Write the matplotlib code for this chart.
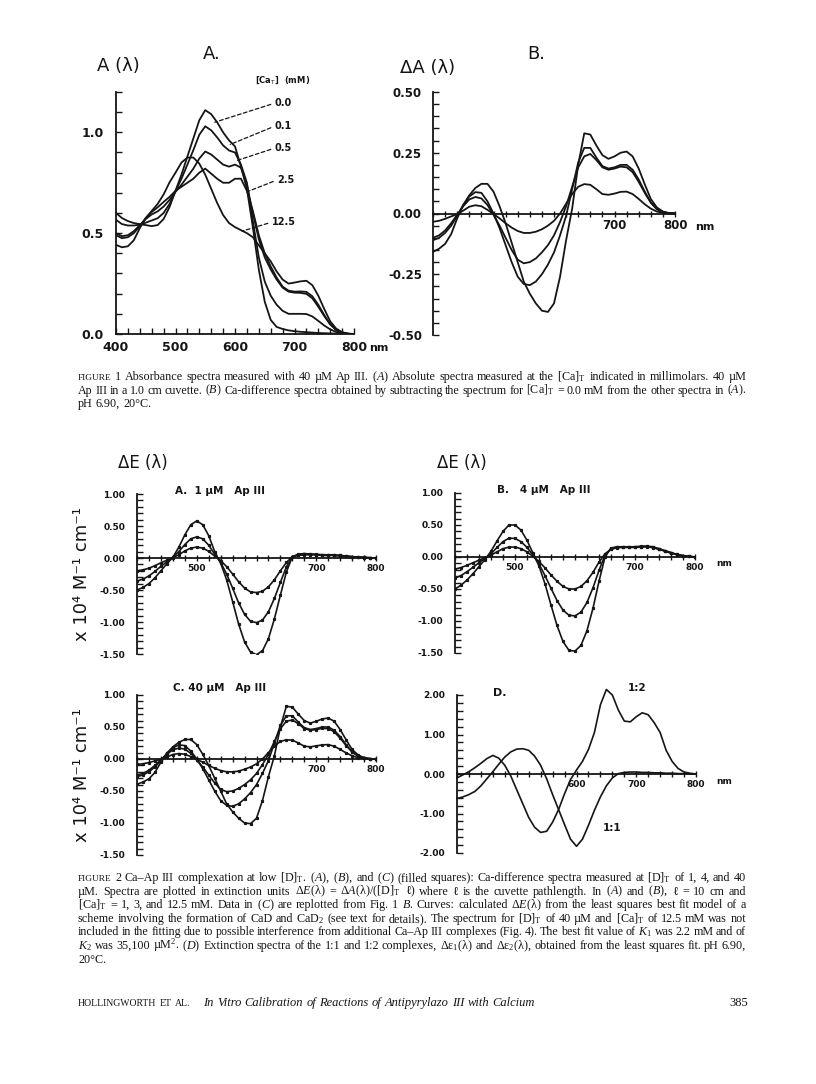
import numpy as np
import matplotlib
matplotlib.use("Agg")
import matplotlib.pyplot as plt
from matplotlib.ticker import MultipleLocator
from matplotlib.transforms import IdentityTransform

plt.rcParams['font.family'] = ['DejaVu Sans']
plt.rcParams['mathtext.fontset'] = 'custom'
plt.rcParams['mathtext.rm'] = 'Liberation Serif'
plt.rcParams['mathtext.it'] = 'Liberation Serif:italic'

W, H = 816, 1084
INK = '#151515'
SERIF = ['Liberation Serif', 'DejaVu Serif']

# wavelength grid (nm), every 10 nm from 400 to 800
wl = np.arange(400, 801, 10)

# ---- Fig 1A: absorbance, 40 uM Ap III, [Ca]T in mM
A_00 = [0.60, 0.575, 0.56, 0.55, 0.545, 0.54, 0.535, 0.54, 0.57, 0.63,
        0.71, 0.79, 0.88, 0.97, 1.06, 1.11, 1.09, 1.05, 1.00, 0.96,
        0.93, 0.83, 0.72, 0.53, 0.32, 0.16, 0.07, 0.035, 0.025, 0.018,
        0.014, 0.011, 0.009, 0.007, 0.005, 0.004, 0.003, 0.002, 0.001, 0.0, 0.0]
A_01 = [0.566, 0.545, 0.538, 0.538, 0.542, 0.552, 0.563, 0.574, 0.60, 0.645,
        0.708, 0.77, 0.84, 0.912, 0.988, 1.03, 1.01, 0.975, 0.935, 0.91,
        0.90, 0.84, 0.75, 0.56, 0.38, 0.26, 0.19, 0.145, 0.115, 0.10,
        0.10, 0.10, 0.099, 0.087, 0.065, 0.042, 0.023, 0.01, 0.004, 0.001, 0.0]
A_05 = [0.50, 0.485, 0.49, 0.51, 0.54, 0.57, 0.593, 0.608, 0.632, 0.665,
        0.705, 0.74, 0.78, 0.82, 0.87, 0.905, 0.89, 0.865, 0.84, 0.83,
        0.84, 0.825, 0.74, 0.60, 0.47, 0.38, 0.32, 0.27, 0.23, 0.21,
        0.205, 0.204, 0.199, 0.177, 0.135, 0.089, 0.048, 0.02, 0.007, 0.001, 0.0]
A_25 = [0.49, 0.475, 0.48, 0.50, 0.535, 0.575, 0.605, 0.628, 0.655, 0.68,
        0.71, 0.73, 0.75, 0.77, 0.80, 0.82, 0.795, 0.77, 0.75, 0.75,
        0.77, 0.77, 0.71, 0.61, 0.49, 0.40, 0.335, 0.28, 0.235, 0.215,
        0.21, 0.211, 0.209, 0.187, 0.145, 0.094, 0.048, 0.02, 0.007, 0.001, 0.0]
A_125 = [0.442, 0.43, 0.435, 0.465, 0.525, 0.575, 0.61, 0.645, 0.692, 0.752,
         0.80, 0.85, 0.875, 0.875, 0.845, 0.79, 0.72, 0.65, 0.59, 0.55,
         0.53, 0.515, 0.50, 0.48, 0.44, 0.40, 0.36, 0.31, 0.27, 0.25,
         0.255, 0.261, 0.264, 0.242, 0.19, 0.124, 0.063, 0.027, 0.009, 0.002, 0.0]
conc_names = ['0.0', '0.1', '0.5', '2.5', '12.5']

# ---- Fig 1B: Ca-difference spectra (absorbance units)
dA_01 = [-0.034, -0.03, -0.022, -0.012, -0.003, 0.012, 0.028, 0.034, 0.03, 0.015,
         -0.002, -0.02, -0.04, -0.058, -0.072, -0.08, -0.08, -0.075, -0.065, -0.05,
         -0.03, 0.0, 0.04, 0.08, 0.11, 0.121, 0.118, 0.10, 0.08, 0.077,
         0.082, 0.089, 0.09, 0.08, 0.06, 0.038, 0.02, 0.008, 0.003, 0.001, 0.0]
dA_05 = [-0.10, -0.09, -0.07, -0.04, -0.005, 0.03, 0.058, 0.068, 0.062, 0.035,
         -0.005, -0.05, -0.10, -0.15, -0.19, -0.205, -0.20, -0.185, -0.16, -0.13,
         -0.09, -0.035, 0.03, 0.11, 0.19, 0.235, 0.245, 0.22, 0.19, 0.18,
         0.185, 0.193, 0.19, 0.17, 0.13, 0.085, 0.045, 0.018, 0.006, 0.001, 0.0]
dA_25 = [-0.11, -0.10, -0.08, -0.05, -0.01, 0.035, 0.07, 0.088, 0.085, 0.05,
         0.0, -0.06, -0.13, -0.20, -0.26, -0.29, -0.295, -0.28, -0.25, -0.21,
         -0.16, -0.09, -0.01, 0.10, 0.21, 0.27, 0.27, 0.23, 0.195, 0.185,
         0.19, 0.20, 0.20, 0.18, 0.14, 0.09, 0.045, 0.018, 0.006, 0.001, 0.0]
dA_125 = [-0.158, -0.145, -0.125, -0.085, -0.02, 0.035, 0.075, 0.105, 0.122, 0.122,
          0.09, 0.03, -0.04, -0.12, -0.20, -0.28, -0.33, -0.37, -0.40, -0.405,
          -0.37, -0.26, -0.11, 0.02, 0.20, 0.33, 0.325, 0.28, 0.24, 0.225,
          0.235, 0.25, 0.255, 0.235, 0.185, 0.12, 0.06, 0.025, 0.008, 0.002, 0.0]

# ---- Fig 2A: extinction, 1 uM Ap III (x 10^4 M-1 cm-1)
dE1_lo = [-0.20, -0.185, -0.16, -0.12, -0.075, -0.035, 0.005, 0.05, 0.11, 0.155,
          0.17, 0.155, 0.105, 0.03, -0.04, -0.135, -0.25, -0.37, -0.47, -0.53,
          -0.54, -0.52, -0.45, -0.34, -0.20, -0.07, 0.02, 0.04, 0.05, 0.05,
          0.05, 0.04, 0.04, 0.04, 0.03, 0.025, 0.02, 0.01, 0.005, 0.0, 0.0]
dE1_mid = [-0.36, -0.33, -0.28, -0.21, -0.13, -0.06, 0.01, 0.10, 0.21, 0.30,
           0.33, 0.30, 0.20, 0.06, -0.07, -0.25, -0.47, -0.70, -0.88, -0.99,
           -1.01, -0.97, -0.84, -0.63, -0.38, -0.14, 0.02, 0.05, 0.06, 0.06,
           0.05, 0.05, 0.05, 0.04, 0.04, 0.03, 0.02, 0.015, 0.01, 0.005, 0.0]
dE1_hi = [-0.50, -0.46, -0.40, -0.31, -0.20, -0.09, 0.01, 0.17, 0.36, 0.52,
          0.58, 0.52, 0.35, 0.10, -0.08, -0.34, -0.68, -1.03, -1.31, -1.47,
          -1.51, -1.45, -1.26, -0.95, -0.58, -0.22, 0.02, 0.06, 0.07, 0.06,
          0.06, 0.05, 0.05, 0.05, 0.04, 0.03, 0.02, 0.015, 0.01, 0.005, 0.0]

# ---- Fig 2B: extinction, 4 uM Ap III
dE4_lo = [-0.19, -0.165, -0.13, -0.09, -0.05, -0.01, 0.03, 0.08, 0.13, 0.155,
          0.155, 0.13, 0.08, 0.01, -0.07, -0.17, -0.28, -0.38, -0.46, -0.50,
          -0.50, -0.46, -0.37, -0.24, -0.08, 0.05, 0.12, 0.145, 0.15, 0.15,
          0.15, 0.155, 0.16, 0.145, 0.12, 0.09, 0.06, 0.035, 0.02, 0.01, 0.0]
dE4_mid = [-0.33, -0.29, -0.23, -0.16, -0.09, -0.02, 0.05, 0.15, 0.24, 0.295,
           0.29, 0.24, 0.15, 0.03, -0.11, -0.29, -0.49, -0.68, -0.83, -0.91,
           -0.92, -0.86, -0.71, -0.48, -0.21, 0.03, 0.13, 0.15, 0.155, 0.155,
           0.155, 0.16, 0.165, 0.15, 0.125, 0.095, 0.065, 0.04, 0.02, 0.01, 0.0]
dE4_hi = [-0.50, -0.44, -0.36, -0.26, -0.15, -0.04, 0.09, 0.25, 0.40, 0.50,
          0.50, 0.42, 0.26, 0.06, -0.14, -0.42, -0.75, -1.07, -1.32, -1.46,
          -1.47, -1.38, -1.15, -0.80, -0.38, 0.0, 0.14, 0.16, 0.16, 0.16,
          0.16, 0.17, 0.17, 0.16, 0.13, 0.10, 0.07, 0.04, 0.02, 0.01, 0.0]

# ---- Fig 2C: extinction, 40 uM Ap III (Fig 1B replotted)
dE40_01 = [-0.085, -0.075, -0.055, -0.03, -0.008, 0.03, 0.07, 0.085, 0.075, 0.038,
           -0.005, -0.05, -0.10, -0.145, -0.18, -0.20, -0.20, -0.19, -0.16, -0.125,
           -0.075, 0.0, 0.10, 0.20, 0.275, 0.30, 0.295, 0.25, 0.20, 0.19,
           0.205, 0.22, 0.225, 0.20, 0.15, 0.095, 0.05, 0.02, 0.008, 0.003, 0.0]
dE40_05 = [-0.25, -0.225, -0.175, -0.10, -0.013, 0.075, 0.145, 0.17, 0.155, 0.088,
           -0.013, -0.125, -0.25, -0.375, -0.475, -0.51, -0.50, -0.46, -0.40, -0.325,
           -0.225, -0.088, 0.075, 0.275, 0.475, 0.59, 0.61, 0.55, 0.475, 0.45,
           0.46, 0.48, 0.475, 0.425, 0.325, 0.21, 0.11, 0.045, 0.015, 0.003, 0.0]
dE40_25 = [-0.275, -0.25, -0.20, -0.125, -0.025, 0.088, 0.175, 0.22, 0.21, 0.125,
           0.0, -0.15, -0.325, -0.50, -0.65, -0.725, -0.74, -0.70, -0.625, -0.525,
           -0.40, -0.225, -0.025, 0.25, 0.525, 0.675, 0.675, 0.575, 0.49, 0.46,
           0.475, 0.50, 0.50, 0.45, 0.35, 0.225, 0.11, 0.045, 0.015, 0.003, 0.0]
dE40_125 = [-0.395, -0.36, -0.31, -0.21, -0.05, 0.09, 0.19, 0.26, 0.305, 0.305,
            0.225, 0.075, -0.10, -0.30, -0.50, -0.70, -0.825, -0.925, -1.00, -1.01,
            -0.925, -0.65, -0.275, 0.05, 0.50, 0.825, 0.81, 0.70, 0.60, 0.56,
            0.59, 0.625, 0.64, 0.59, 0.46, 0.30, 0.15, 0.063, 0.02, 0.005, 0.0]

# ---- Fig 2D: extinction spectra of 1:1 and 1:2 complexes
de_11 = [-0.62, -0.58, -0.52, -0.44, -0.30, -0.12, 0.06, 0.25, 0.43, 0.56,
         0.63, 0.64, 0.60, 0.45, 0.22, -0.12, -0.52, -0.90, -1.28, -1.65,
         -1.83, -1.65, -1.30, -0.92, -0.58, -0.30, -0.10, 0.01, 0.04, 0.05,
         0.05, 0.04, 0.04, 0.03, 0.03, 0.02, 0.02, 0.01, 0.01, 0.0, 0.0]
de_12 = [-0.10, -0.02, 0.06, 0.16, 0.27, 0.39, 0.47, 0.40, 0.22, -0.05,
         -0.40, -0.75, -1.10, -1.35, -1.48, -1.45, -1.22, -0.90, -0.50, -0.14,
         0.10, 0.32, 0.62, 1.05, 1.75, 2.14, 2.00, 1.62, 1.34, 1.32,
         1.45, 1.55, 1.50, 1.30, 1.05, 0.60, 0.32, 0.14, 0.05, 0.02, 0.0]

fig = plt.figure(figsize=(W / 100, H / 100), dpi=100)
fig.patch.set_facecolor('white')


def box(left, top, width, height):
    # page pixels, measured from the top-left corner
    return fig.add_axes([left / W, 1 - (top + height) / H, width / W, height / H])


def put(x, y, s, **kw):
    kw.setdefault('color', INK)
    kw.setdefault('va', 'center')
    return fig.text(x / W, 1 - y / H, s, **kw)


def frame(ax, ylo, yhi, ystep, yminor, fmt, xlabels, size, ypad, at_zero=True):
    ax.set_xlim(400, 800)
    ax.set_ylim(ylo, yhi)
    ax.patch.set_alpha(0)
    for s in ('top', 'right'):
        ax.spines[s].set_visible(False)
    for s in ('left', 'bottom'):
        ax.spines[s].set_linewidth(1.3)
        ax.spines[s].set_color(INK)
    if at_zero:
        ax.spines['bottom'].set_position(('data', 0))
    yt = np.arange(ylo, yhi + 1e-9, ystep)
    ax.set_yticks(yt, labels=[fmt.format(v + 0.0) for v in yt],
                  fontweight='bold', fontsize=size)
    ax.yaxis.set_minor_locator(MultipleLocator(yminor))
    ax.set_xticks(np.arange(400, 801, 100), labels=xlabels,
                  fontweight='bold', fontsize=size)
    ax.xaxis.set_minor_locator(MultipleLocator(20))
    ax.tick_params(axis='y', which='both', direction='in', length=4,
                   width=1, pad=ypad, colors=INK)
    ax.tick_params(axis='x', which='both', direction='inout' if at_zero else 'in',
                   length=5 if at_zero else 4, width=1,
                   pad=1.5 if at_zero else 5, colors=INK)


# ================= FIGURE 1 =================
ax = box(116, 92, 238, 242)
frame(ax, 0.0, 1.0, 0.5, 0.1, '{:.1f}', ['400', '500', '600', '700', '800'],
      9, 9, at_zero=False)
ax.set_ylim(0, 1.2)
for y in (A_00, A_01, A_05, A_25, A_125):
    ax.plot(wl, y, color=INK, lw=1.3)
# dashed leaders: (label position, point on curve) in data units
leaders = [((667, 1.145), (566, 1.05)), ((667, 1.031), (592, 0.94)),
           ((667, 0.922), (603, 0.86)), ((671, 0.764), (620, 0.705)),
           ((662, 0.555), (612, 0.51))]
for name, (xy_txt, xy_pt) in zip(conc_names, leaders):
    ax.annotate(name, xy=xy_pt, xytext=xy_txt, ha='left', va='center',
                fontsize=7, fontweight='bold', color=INK, annotation_clip=False,
                arrowprops=dict(arrowstyle='-', linestyle=(0, (3, 2)), lw=0.9,
                                color=INK, relpos=(0, 0.5), shrinkA=1, shrinkB=0))
put(97, 66, 'A (λ)', fontsize=13)
put(203, 54, 'A.', fontsize=13)
put(255, 80, '[Ca$_\\mathsf{T}$]  (mM)', fontsize=6, fontweight='bold')
put(369, 348, 'nm', fontsize=8, fontweight='bold')

ax = box(433, 92, 242, 243)
frame(ax, -0.5, 0.5, 0.25, 0.05, '{:.2f}', ['', '', '', '700', '800'], 8.5, 8)
for y in (dA_01, dA_05, dA_25, dA_125):
    ax.plot(wl, y, color=INK, lw=1.3)
put(400, 68, 'ΔA (λ)', fontsize=13)
put(527, 54, 'B.', fontsize=13)
put(695, 227, 'nm', fontsize=8, fontweight='bold')

# ================= FIGURE 2 =================
panels = [
    ((137, 494, 239, 160), (dE1_lo, dE1_mid, dE1_hi), ['', '500', '', '700', '800']),
    ((455, 493, 240, 160), (dE4_lo, dE4_mid, dE4_hi), ['', '500', '', '700', '800']),
    ((137, 695, 239, 160), (dE40_01, dE40_05, dE40_25, dE40_125), ['', '', '', '700', '800']),
]
for rect, series, xl in panels:
    ax = box(*rect)
    frame(ax, -1.5, 1.0, 0.5, 0.1, '{:.2f}', xl, 6.5, 8.5)
    for y in series:
        ax.plot(wl, y, color=INK, lw=1.2)
        ax.plot(wl, y, 's', ms=1.3, color=INK)

ax = box(457, 695, 239, 158)
frame(ax, -2.0, 2.0, 1.0, 0.2, '{:.2f}', ['', '', '600', '700', '800'], 6.5, 8.5)
ax.plot(wl, de_11, color=INK, lw=1.2, clip_on=False)
ax.plot(wl, de_12, color=INK, lw=1.2, clip_on=False)

put(118, 463, 'ΔE (λ)', fontsize=12)
put(437, 463, 'ΔE (λ)', fontsize=12)
put(175, 491, 'A.  1 µM   Ap III', fontsize=7.5, fontweight='bold')
put(497, 490, 'B.   4 µM   Ap III', fontsize=7.5, fontweight='bold')
put(173, 688, 'C. 40 µM   Ap III', fontsize=7.5, fontweight='bold')
put(493, 693, 'D.', fontsize=8, fontweight='bold')
put(628, 688, '1:2', fontsize=7.5, fontweight='bold')
put(603, 828, '1:1', fontsize=7.5, fontweight='bold')
put(716, 564, 'nm', fontsize=6.5, fontweight='bold')
put(716, 782, 'nm', fontsize=6.5, fontweight='bold')
for yc in (574, 775):
    put(82, yc, 'x 10⁴ M⁻¹ cm⁻¹', fontsize=13, rotation=90, ha='center')

# ================= captions =================
rend = fig.canvas.get_renderer()


def justify(y, text, x0=78, x1=746, size=8.7, full=True, style='normal'):
    words = text.split(' ')

    def lay(sz):
        arts = []
        for w in words:
            s = sz
            if w.startswith('^'):          # small capitals
                w, s = w[1:], sz * 0.78
            arts.append(fig.text(0, H - y, w, fontsize=s, family=SERIF, va='baseline',
                                 style=style, color=INK, transform=IdentityTransform()))
        return arts, [a.get_window_extent(rend).width for a in arts]

    arts, widths = lay(size)
    if full and sum(widths) + 2.5 * (len(arts) - 1) > x1 - x0:
        scale = (x1 - x0 - 2.5 * (len(arts) - 1)) / sum(widths)
        for a in arts:
            a.remove()
        arts, widths = lay(size * scale)
    gap = (x1 - x0 - sum(widths)) / (len(arts) - 1) if full else size * 0.36
    x = x0
    for a, w in zip(arts, widths):
        a.set_x(x)
        x += w + gap
    return x


cap1 = [
    "^FIGURE 1 Absorbance spectra measured with 40 µM Ap III. ($A$) Absolute spectra measured at the [Ca]$_\\mathrm{T}$ indicated in millimolars. 40 µM",
    "Ap III in a 1.0 cm cuvette. ($B$) Ca-difference spectra obtained by subtracting the spectrum for [Ca]$_\\mathrm{T}$ = 0.0 mM from the other spectra in ($A$).",
    "pH 6.90, 20°C.",
]
cap2 = [
    "^FIGURE 2 Ca–Ap III complexation at low [D]$_\\mathrm{T}$. ($A$), ($B$), and ($C$) (filled squares): Ca-difference spectra measured at [D]$_\\mathrm{T}$ of 1, 4, and 40",
    "µM. Spectra are plotted in extinction units Δ$E$(λ) = Δ$A$(λ)/([D]$_\\mathrm{T}$ ℓ) where ℓ is the cuvette pathlength. In ($A$) and ($B$), ℓ = 10 cm and",
    "[Ca]$_\\mathrm{T}$ = 1, 3, and 12.5 mM. Data in ($C$) are replotted from Fig. 1 $B$. Curves: calculated Δ$E$(λ) from the least squares best fit model of a",
    "scheme involving the formation of CaD and CaD$_2$ (see text for details). The spectrum for [D]$_\\mathrm{T}$ of 40 µM and [Ca]$_\\mathrm{T}$ of 12.5 mM was not",
    "included in the fitting due to possible interference from additional Ca–Ap III complexes (Fig. 4). The best fit value of $K_1$ was 2.2 mM and of",
    "$K_2$ was 35,100 µM$^2$. ($D$) Extinction spectra of the 1:1 and 1:2 complexes, Δε$_1$(λ) and Δε$_2$(λ), obtained from the least squares fit. pH 6.90,",
    "20°C.",
]
for i, line in enumerate(cap1):
    justify(380 + 13.6 * i, line, full=i < len(cap1) - 1)
for i, line in enumerate(cap2):
    justify(881 + 13.6 * i, line, full=i < len(cap2) - 1)

end = justify(1006, "^HOLLINGWORTH ^ET ^AL.", x0=78, size=9, full=False)
justify(1006, "In Vitro Calibration of Reactions of Antipyrylazo III with Calcium",
        x0=end + 10, size=9, full=False, style='italic')
fig.text(748, H - 1006, "385", fontsize=9, family=SERIF, va='baseline', ha='right',
         color=INK, transform=IdentityTransform())

fig.savefig('out.png', dpi=100, facecolor='white')
